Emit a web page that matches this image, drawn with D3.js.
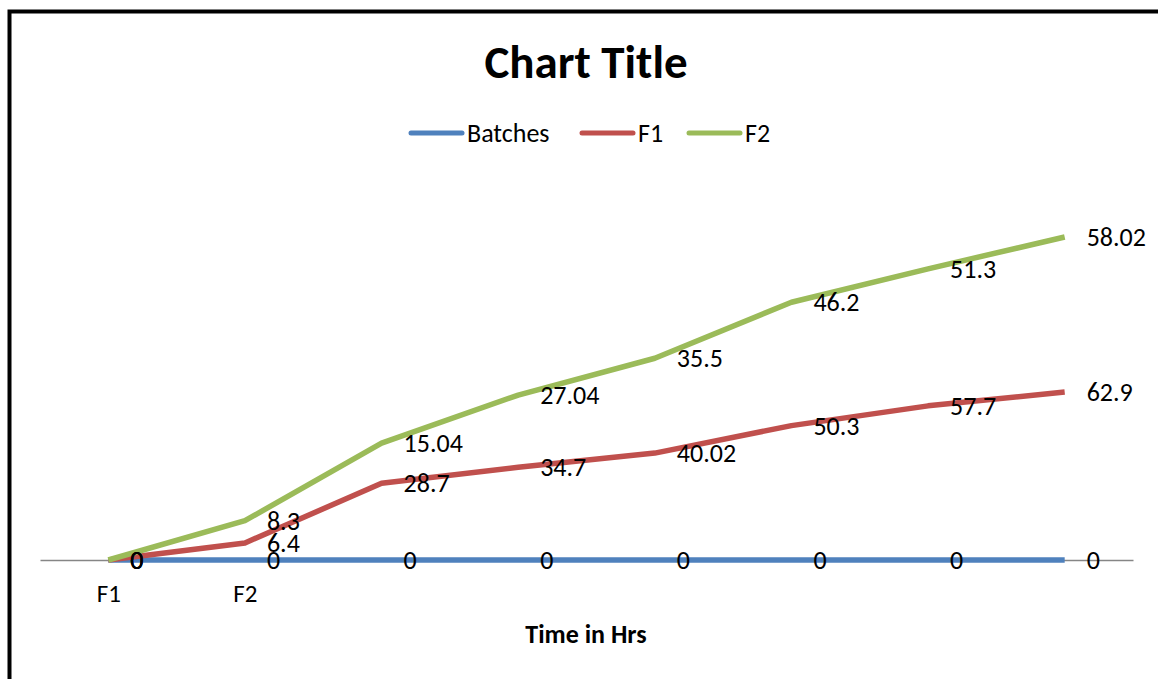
<!DOCTYPE html>
<html>
<head>
<meta charset="utf-8">
<script src="https://cdn.jsdelivr.net/npm/d3@7"></script>
<style>
  html, body { margin: 0; padding: 0; background: #fff; }
  svg { display: block; font-family: Carlito, Lato, "Open Sans", sans-serif; }
</style>
</head>
<body>
<svg id="chart" width="1158" height="679"></svg>
<script>
// Categories along the time axis
const categories = ["F1", "F2", "", "", "", "", "", ""];
// Series values (F1 and F2 are stacked on top of Batches)
const batches = [0, 0, 0, 0, 0, 0, 0, 0];
const f1 = [0, 6.4, 28.7, 34.7, 40.02, 50.3, 57.7, 62.9];
const f2 = [0, 8.3, 15.04, 27.04, 35.5, 46.2, 51.3, 58.02];
const seriesNames = ["Batches", "F1", "F2"];
const seriesColors = ["#4F81BD", "#C0504D", "#9BBB59"];

const svg = d3.select("#chart");
const W = 1158, H = 679;
const FONT = "Carlito, Lato, 'Open Sans', sans-serif";

// Outer frame (runs off the right and bottom edges)
svg.append("rect").attr("x", 9.5).attr("y", 11.5).attr("width", W + 20).attr("height", H + 20)
  .attr("fill", "none").attr("stroke", "#000").attr("stroke-width", 4);

const idx = categories.map((_, i) => i);
const x = d3.scalePoint().domain(idx).range([40, 1133]).padding(0.5);
const y = d3.scaleLinear().domain([0, 140]).range([560, 186]);

// Stack the series
const raw = [batches, f1, f2];
const stacked = [];
let acc = idx.map(() => 0);
raw.forEach((vals, s) => {
  acc = acc.map((a, i) => a + vals[i]);
  stacked.push({ name: seriesNames[s], color: seriesColors[s], values: vals, tops: acc.slice() });
});

// Title
svg.append("text").attr("x", 586).attr("y", 78).attr("text-anchor", "middle")
  .attr("font-size", 47).attr("font-weight", "bold").attr("fill", "#000").text("Chart Title");

// Legend
const legendItems = [
  { name: "Batches", color: seriesColors[0], x0: 411 },
  { name: "F1", color: seriesColors[1], x0: 582 },
  { name: "F2", color: seriesColors[2], x0: 689 }
];
const lg = svg.append("g");
legendItems.forEach(it => {
  lg.append("line").attr("x1", it.x0).attr("x2", it.x0 + 51).attr("y1", 133).attr("y2", 133)
    .attr("stroke", it.color).attr("stroke-width", 5).attr("stroke-linecap", "round");
  lg.append("text").attr("x", it.x0 + 56).attr("y", 133).attr("dominant-baseline", "central")
    .attr("font-size", 26).attr("fill", "#000").text(it.name);
});

// Category axis
const axis = d3.axisBottom(x).tickSize(0).tickFormat(i => categories[i]);
const ag = svg.append("g").attr("transform", `translate(0,${y(0)})`).call(axis);
ag.select(".domain").attr("stroke", "#868686").attr("stroke-width", 1.5);
ag.selectAll(".tick text").attr("y", 33).attr("dy", null).attr("dominant-baseline", "central")
  .attr("font-size", 25).attr("fill", "#000").attr("font-family", FONT);

// Axis title
svg.append("text").attr("x", 586).attr("y", 643).attr("text-anchor", "middle")
  .attr("font-size", 26).attr("font-weight", "bold").attr("fill", "#000").text("Time in Hrs");

// Lines
const line = d3.line().x((d, i) => x(i)).y(d => y(d));
stacked.forEach(s => {
  svg.append("path").datum(s.tops).attr("d", line).attr("fill", "none")
    .attr("stroke", s.color).attr("stroke-width", 5.5).attr("stroke-linejoin", "round");
});

// Data labels: value of each series, to the right of its point
stacked.forEach(s => {
  svg.append("g").selectAll("text").data(s.tops).join("text")
    .attr("x", (d, i) => x(i) + 22)
    .attr("y", d => y(d))
    .attr("dominant-baseline", "central")
    .attr("font-size", 26).attr("fill", "#000")
    .text((d, i) => s.values[i]);
});
</script>
</body>
</html>
